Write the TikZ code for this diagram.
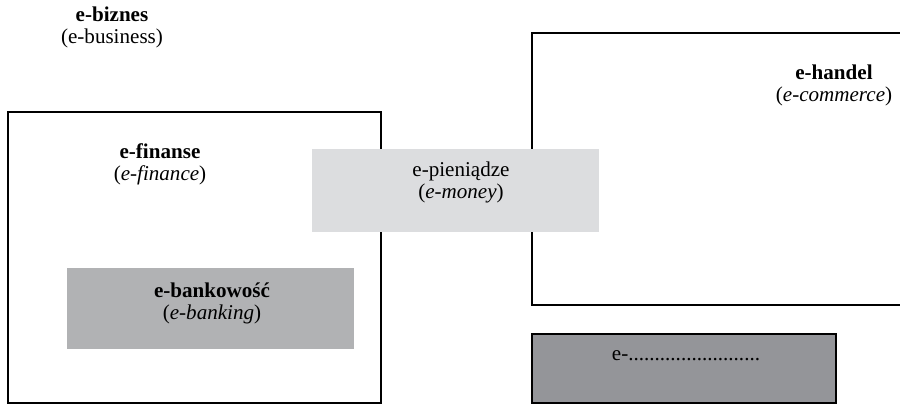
\documentclass[tikz,border=0pt]{standalone}
\usepackage{fontspec}
\setmainfont{Liberation Serif}
\definecolor{lightgr}{HTML}{DCDDDF}
\definecolor{midgr}{HTML}{B1B2B4}
\definecolor{darkgr}{HTML}{949599}

\begin{document}
\begin{tikzpicture}
	[x=0.02cm, y=-0.02cm,
	every node/.style={font=\fontsize{12}{12.5}\selectfont, align=center},
	frame/.style={draw, line width=1.1pt, anchor=north west, inner sep=0pt},
	plate/.style={anchor=north west, inner sep=0pt}]
	\useasboundingbox (0,0) rectangle (900,404);
	\node (finanse) [frame, minimum width=7.46cm, minimum height=5.82cm] at (7,111) {};
	\node (handel) [frame, minimum width=7.5cm, minimum height=5.44cm] at (531,32) {};
	\node (bank) [plate, fill=midgr, minimum width=5.74cm, minimum height=1.62cm] at (67,268) {};
	\node (money) [plate, fill=lightgr, minimum width=5.74cm, minimum height=1.66cm] at (312,149) {};
	\node (other) [frame, fill=darkgr, minimum width=6.08cm, minimum height=1.38cm] at (531,333) {};
	\node (tbiznes) at (112,27) {\textbf{e-biznes}\\(e-business)};
	\node (tfinanse) at (160,164) {\textbf{e-finanse}\\(\textit{e-finance})};
	\node (tmoney) at (461,182) {e-pieniądze\\(\textit{e-money})};
	\node (tbank) at (212,303) {\textbf{e-bankowość}\\(\textit{e-banking})};
	\node (thandel) at (834,85) {\textbf{e-handel}\\(\textit{e-commerce})};
	\node (tother) at (686,356) {e-.........................};
\end{tikzpicture}
\end{document}
